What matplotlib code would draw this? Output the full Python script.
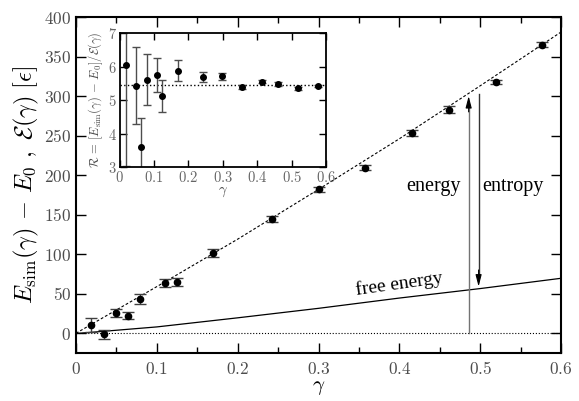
import matplotlib
matplotlib.use("Agg")
import matplotlib.pyplot as plt
from matplotlib.ticker import FuncFormatter, MultipleLocator

plt.rcParams['mathtext.fontset'] = 'cm'
plt.rcParams['font.family'] = ['DejaVu Serif']

# simulation points, main panel
gam = [0.0186, 0.034, 0.049, 0.064, 0.079, 0.110, 0.1246, 0.170,
       0.243, 0.300, 0.358, 0.416, 0.462, 0.519, 0.576]
e_sim = [10.2, -1.3, 25.8, 22.4, 43.6, 63.1, 64.3, 102.0,
         144.3, 182.0, 209.5, 253.6, 282.8, 317.9, 364.8]
e_err = [9, 6, 5, 5, 6, 5, 5, 5, 4, 3, 3, 4, 4, 3, 3]

# energy curve (dashed) and free energy curve (solid)
g_curve = [0.0, 0.1, 0.2, 0.3, 0.4, 0.5, 0.6]
e_energy = [0, 59, 119, 182, 246, 313, 381]
g_free = [0.0, 0.005, 0.1, 0.2, 0.3, 0.4, 0.5, 0.6]
e_free = [0, 0, 8, 19.5, 31.5, 44.5, 56.5, 69.5]

# ratio, inset
gam_r = [0.017, 0.0475, 0.062, 0.0787, 0.108, 0.123, 0.169,
         0.242, 0.299, 0.357, 0.414, 0.461, 0.519, 0.576]
ratio = [6.04, 5.43, 3.59, 5.60, 5.75, 5.12, 5.87,
         5.69, 5.71, 5.39, 5.55, 5.49, 5.35, 5.42]
ratio_err = [3.0, 1.16, 0.88, 0.76, 0.51, 0.47, 0.31,
             0.16, 0.11, 0.07, 0.05, 0.06, 0.04, 0.03]
ratio_mean = 5.45

g_energy_arrow = 0.4857
g_entropy_arrow = 0.498

fig = plt.figure(figsize=(5.79, 4.01), dpi=100)
ax = fig.add_axes([0.1313, 0.1197, 0.8377, 0.8379])

mfmt = FuncFormatter(lambda v, p: r'$%g$' % round(v, 3))

ax.plot(g_curve, e_energy, '--', color='k', lw=0.8, dashes=(2.5, 1.8))
ax.plot(g_free, e_free, '-', color='k', lw=0.9)
ax.plot([0, 0.6], [0, 0], ':', color='k', lw=0.8)
ax.errorbar(gam, e_sim, yerr=e_err, fmt='o', color='k', ms=4.5,
            ecolor='0.25', elinewidth=1.0, capsize=4.5, capthick=1.0)

# energy / entropy arrows
ax.plot([g_energy_arrow, g_energy_arrow], [0, 285], color='0.45', lw=1.0)
ax.annotate('', xy=(g_energy_arrow, 300), xytext=(g_energy_arrow, 280),
            arrowprops=dict(arrowstyle='-|>,head_length=0.7,head_width=0.18',
                            color='k', lw=0.8, shrinkA=0, shrinkB=0))
ax.plot([g_entropy_arrow, g_entropy_arrow], [303, 75], color='0.2', lw=1.0)
ax.annotate('', xy=(g_entropy_arrow, 59), xytext=(g_entropy_arrow, 80),
            arrowprops=dict(arrowstyle='-|>,head_length=0.7,head_width=0.18',
                            color='k', lw=0.8, shrinkA=0, shrinkB=0))

ax.text(0.476, 186, 'energy', ha='right', va='center', fontsize=14.5,
        family='Liberation Serif')
ax.text(0.503, 186, 'entropy', ha='left', va='center', fontsize=14.5,
        family='Liberation Serif')
ax.text(0.40, 62, 'free energy', ha='center', va='center', fontsize=14,
        family='Liberation Serif', rotation=8)

ax.set_xlim(0, 0.6)
ax.set_ylim(-25, 400)
ax.xaxis.set_major_locator(MultipleLocator(0.1))
ax.xaxis.set_minor_locator(MultipleLocator(0.05))
ax.yaxis.set_major_locator(MultipleLocator(50))
ax.xaxis.set_major_formatter(mfmt)
ax.yaxis.set_major_formatter(mfmt)
ax.tick_params(which='both', direction='in', top=True, right=True,
               labelsize=12.5, width=1.0, colors='k')
ax.tick_params(axis='x', pad=6)
ax.tick_params(which='major', length=7)
ax.tick_params(which='minor', length=4)
ax.tick_params(axis='x', labelcolor='0.3')
ax.tick_params(axis='y', labelcolor='0.3')
for s in ax.spines.values():
    s.set_linewidth(1.5)
ax.set_xlabel(r'$\gamma$', fontsize=15, labelpad=0)
ax.set_ylabel(r'$E_{\rm sim}(\gamma)\,-\,E_0\ ,\ \mathcal{E}(\gamma)\ [\epsilon]$',
              fontsize=17.5, labelpad=2)

# inset
ins = fig.add_axes([0.2067, 0.5835, 0.3563, 0.3342])
ins.plot([0, 0.6], [ratio_mean, ratio_mean], ':', color='k', lw=1.0)
ins.errorbar(gam_r, ratio, yerr=ratio_err, fmt='o', color='k', ms=4,
             ecolor='0.3', elinewidth=1.0, capsize=3, capthick=1.0)
ins.set_xlim(0, 0.6)
ins.set_ylim(3, 7)
ins.xaxis.set_major_locator(MultipleLocator(0.1))
ins.yaxis.set_major_locator(MultipleLocator(1))
ins.xaxis.set_major_formatter(mfmt)
ins.yaxis.set_major_formatter(mfmt)
ins.tick_params(which='both', direction='in', top=True, right=True,
                labelsize=10.5, length=5, width=1.0, labelcolor='0.4', pad=2)
for s in ins.spines.values():
    s.set_linewidth(1.3)
ins.set_xlabel(r'$\gamma$', fontsize=10.5, labelpad=0, color='0.3')
ins.set_ylabel(r'$\mathcal{R}\,=\,[E_{\rm sim}(\gamma)\,-\,E_0]/\mathcal{E}(\gamma)$',
               fontsize=9, labelpad=2, color='0.3')

fig.savefig('out.png', dpi=100)
